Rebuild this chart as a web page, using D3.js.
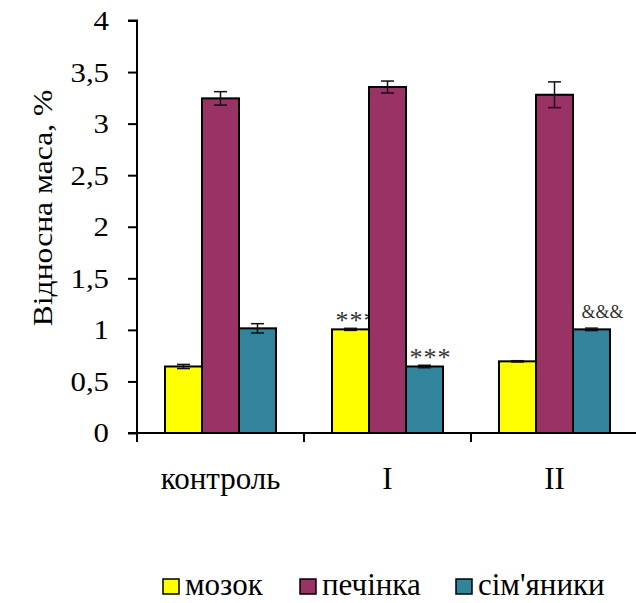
<!DOCTYPE html>
<html>
<head>
<meta charset="utf-8">
<script src="https://cdn.jsdelivr.net/npm/d3@7"></script>
<style>
  body { margin: 0; background: #fff; }
  text { font-family: "Times New Roman", "Liberation Serif", serif; fill: #000; }
</style>
</head>
<body>
<script>
// data
const categories = ["контроль", "I", "II"];
const series = ["мозок", "печінка", "сім'яники"];
const colors = ["#ffff00", "#993366", "#31849b"];

const brain = [0.645, 1.005, 0.695];
const brainErr = [0.02, 0.01, 0.006];
const liver = [3.245, 3.355, 3.28];
const liverErr = [0.065, 0.058, 0.125];
const testes = [1.015, 0.645, 1.005];
const testesErr = [0.045, 0.012, 0.012];
const signs = [["", "***", ""], ["", "", ""], ["", "***", "&&&"]];

const yTicks = [0, 0.5, 1, 1.5, 2, 2.5, 3, 3.5, 4];

const w = 636, h = 603;
const padLeft = 137, padRight = 638, padTop = 20.5, padBottom = 433;

const values = [brain, liver, testes];
const errs = [brainErr, liverErr, testesErr];
const rows = [];
categories.forEach((c, i) => {
  series.forEach((s, j) => {
    rows.push({cat: c, ser: s, idx: j, v: values[j][i], e: errs[j][i], sign: signs[j][i]});
  });
});

const svg = d3.select("body").append("svg")
  .attr("width", w)
  .attr("height", h);

const x0 = d3.scaleBand().domain(categories).range([padLeft, padRight]).padding(0);
const x1 = d3.scaleBand().domain(series).range([0, x0.bandwidth()]).paddingInner(0).paddingOuter(0.757);
const y = d3.scaleLinear().domain([0, 4]).range([padBottom, padTop]);
const cx = d => x0(d.cat) + x1(d.ser) + x1.bandwidth() / 2;

// significance marks (drawn first: the bar next to them covers them a bit)
svg.selectAll("text.sign")
  .data(rows.filter(d => d.sign))
  .enter()
  .append("text")
  .attr("class", "sign")
  .attr("x", d => cx(d) + (d.sign === "&&&" ? 11 : 6))
  .attr("y", d => y(d.v + d.e) + (d.sign === "&&&" ? -10 : 1))
  .attr("text-anchor", "middle")
  .style("font-size", d => d.sign === "&&&" ? "18px" : "26px")
  .style("letter-spacing", d => d.sign === "&&&" ? "0px" : "1px")
  .style("fill", "#333")
  .text(d => d.sign);

// bars
svg.selectAll("rect.bar")
  .data(rows)
  .enter()
  .append("rect")
  .attr("class", "bar")
  .attr("x", d => x0(d.cat) + x1(d.ser))
  .attr("y", d => y(d.v))
  .attr("width", x1.bandwidth())
  .attr("height", d => y(0) - y(d.v))
  .attr("fill", d => colors[d.idx])
  .attr("stroke", "#000")
  .attr("stroke-width", 2);

// error bars
const capW = 13;
const eb = svg.selectAll("g.err")
  .data(rows)
  .enter()
  .append("g")
  .attr("class", "err")
  .attr("stroke", "#111")
  .attr("stroke-width", 1.5);
eb.append("line")
  .attr("x1", cx)
  .attr("x2", cx)
  .attr("y1", d => y(d.v + d.e))
  .attr("y2", d => y(d.v - d.e));
eb.selectAll("line.cap")
  .data(d => [d.v + d.e, d.v - d.e].map(v => ({d: d, v: v})))
  .enter()
  .append("line")
  .attr("class", "cap")
  .attr("x1", p => cx(p.d) - capW / 2)
  .attr("x2", p => cx(p.d) + capW / 2)
  .attr("y1", p => y(p.v))
  .attr("y2", p => y(p.v));

// y axis
const yAxis = d3.axisLeft(y)
  .tickValues(yTicks)
  .tickSize(9)
  .tickFormat(d => String(d).replace(".", ","));
const gy = svg.append("g")
  .attr("transform", "translate(" + padLeft + ",0)")
  .call(yAxis);
gy.select(".domain").attr("stroke-width", 2).attr("d", "M-9," + padTop + "H0V" + padBottom);
gy.selectAll(".tick line").attr("stroke-width", 2);
gy.selectAll(".tick text")
  .attr("x", 0)
  .attr("transform", "translate(-28,0) scale(1.1,1)")
  .style("font-size", "28px")
  .style("font-family", "'Times New Roman', 'Liberation Serif', serif")
  .attr("fill", "#000");

// x axis
const gx = svg.append("g")
  .attr("transform", "translate(0," + padBottom + ")");
gx.append("line")
  .attr("x1", padLeft - 9).attr("x2", w)
  .attr("stroke", "#000").attr("stroke-width", 2);
gx.selectAll("line.tk")
  .data(categories.concat(["end"]))
  .enter()
  .append("line")
  .attr("class", "tk")
  .attr("x1", (c, i) => padLeft + i * x0.step())
  .attr("x2", (c, i) => padLeft + i * x0.step())
  .attr("y1", 0).attr("y2", 9)
  .attr("stroke", "#000").attr("stroke-width", 2);
gx.selectAll("text")
  .data(categories)
  .enter()
  .append("text")
  .attr("x", c => x0(c) + x0.bandwidth() / 2)
  .attr("y", 56)
  .attr("text-anchor", "middle")
  .style("font-size", "31px")
  .text(c => c);

// y title
svg.append("text")
  .attr("transform", "translate(52,208) rotate(-90) scale(1.17,1)")
  .attr("text-anchor", "middle")
  .style("font-size", "27px")
  .text("Відносна маса, %");

// legend
const legX = [163, 300, 456];
const leg = svg.selectAll("g.leg")
  .data(series)
  .enter()
  .append("g")
  .attr("class", "leg")
  .attr("transform", (s, i) => "translate(" + legX[i] + ",579)");
leg.append("rect")
  .attr("width", 16).attr("height", 15)
  .attr("fill", (s, i) => colors[i])
  .attr("stroke", "#000")
  .attr("stroke-width", 1.5);
leg.append("text")
  .attr("x", 22)
  .attr("y", 16)
  .style("font-size", "31px")
  .text(s => s);
</script>
</body>
</html>
